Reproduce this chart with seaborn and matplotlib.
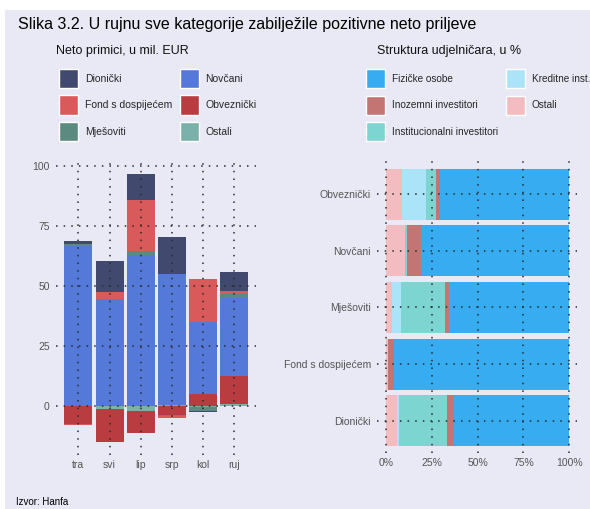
"""
Slika 3.2 - neto primici po kategorijama fondova i struktura udjelnicara.
"""

import matplotlib
matplotlib.use('Agg')
import matplotlib.pyplot as plt
import numpy as np
import pandas as pd
import seaborn as sns
from matplotlib.patches import Patch, Rectangle
from matplotlib.ticker import FuncFormatter

# ---- podaci: neto primici, u mil. EUR ----
months = ['tra', 'svi', 'lip', 'srp', 'kol', 'ruj']
dionicki = [1.2, 13.0, 11.0, 15.4, -0.6, 8.0]
fond_dosp = [-0.4, 3.0, 21.2, -0.6, 18.0, 1.1]
mjesoviti = [0.7, 0.4, 1.8, -0.5, -1.7, 1.6]
novcani = [66.8, 44.0, 62.8, 54.4, 29.9, 32.6]
obveznicki = [-7.3, -13.8, -9.0, -3.7, 5.0, 11.6]
ostali_fond = [0.0, -1.2, -2.1, 0.6, -0.3, 0.9]
fund_labels = ['Dionički', 'Fond s dospijećem', 'Mješoviti',
               'Novčani', 'Obveznički', 'Ostali']

# ---- podaci: struktura udjelnicara, u % ----
categories = ['Obveznički', 'Novčani', 'Mješoviti', 'Fond s dospijećem', 'Dionički']
ostali_ud = [8.5, 10.4, 3.3, 0.9, 6.0]
kreditne = [13.6, 0.2, 4.9, 0.0, 1.1]
institucionalni = [5.1, 0.9, 24.1, 0.0, 26.2]
inozemni = [2.2, 7.6, 2.0, 3.3, 3.6]
fizicke = [70.6, 80.9, 65.7, 95.8, 63.1]
holder_labels = ['Fizičke osobe', 'Inozemni investitori', 'Institucionalni investitori',
                 'Kreditne inst.', 'Ostali']

fund_colors = {
    'Dionički': '#414a6e',
    'Fond s dospijećem': '#d95a5a',
    'Mješoviti': '#5a8a80',
    'Novčani': '#5579d9',
    'Obveznički': '#b83c40',
    'Ostali': '#7ab1aa',
}
holder_colors = {
    'Fizičke osobe': '#38acf0',
    'Inozemni investitori': '#c37573',
    'Institucionalni investitori': '#7dd5d2',
    'Kreditne inst.': '#abe3f8',
    'Ostali': '#f2bcc0',
}

BG = '#e8e9f5'
GRID = '#2b2b2b'
TICK = '#555555'

sns.set_theme(style='white')
plt.rcParams['font.family'] = ['Liberation Sans', 'DejaVu Sans']

fig = plt.figure(figsize=(5.9, 5.09), dpi=100, facecolor='white')
fig.patches.append(Rectangle((5 / 590, 0), 1 - 5 / 590, 1 - 10 / 509,
                             transform=fig.transFigure, facecolor=BG,
                             edgecolor='none', zorder=-5))

ax1 = fig.add_axes([56 / 590, 1 - 455 / 509, 200 / 590, 295 / 509])
ax2 = fig.add_axes([377 / 590, 1 - 453 / 509, 200 / 590, 293 / 509])

# ---- lijevi graf: stacked bars (pozitivni i negativni odvojeno) ----
df = pd.DataFrame({
    'Ostali': ostali_fond,
    'Obveznički': obveznicki,
    'Novčani': novcani,
    'Mješoviti': mjesoviti,
    'Fond s dospijećem': fond_dosp,
    'Dionički': dionicki,
}, index=months)

pos_cum = df.clip(lower=0).cumsum(axis=1)
neg_cum = df.clip(upper=0).cumsum(axis=1)

for cum in (pos_cum, neg_cum):
    for col in reversed(df.columns):
        sns.barplot(x=months, y=cum[col].values, order=months, color=fund_colors[col],
                    saturation=1, width=0.9, errorbar=None, linewidth=0, ax=ax1)

ax1.set_xlim(-0.72, 5.7)
ax1.set_ylim(-20.4, 102.5)
ax1.set_yticks([0, 25, 50, 75, 100])
ax1.set_xticks(range(len(months)))
ax1.set_xticklabels(months)

# ---- desni graf: horizontalni 100% stacked ----
dh = pd.DataFrame({
    'Ostali': ostali_ud,
    'Kreditne inst.': kreditne,
    'Institucionalni investitori': institucionalni,
    'Inozemni investitori': inozemni,
    'Fizičke osobe': fizicke,
}, index=categories)
h_cum = dh.cumsum(axis=1)

for col in reversed(dh.columns):
    sns.barplot(x=h_cum[col].values, y=categories, order=categories, orient='h',
                color=holder_colors[col], saturation=1, width=0.9, errorbar=None,
                linewidth=0, ax=ax2)

ax2.set_xlim(-4.9, 104.2)
ax2.set_ylim(4.57, -0.6)
ax2.set_xticks([0, 25, 50, 75, 100])
ax2.xaxis.set_major_formatter(FuncFormatter(lambda v, p: f'{v:.0f}%'))

# ---- zajednicki stil osi ----
for ax in (ax1, ax2):
    ax.set_facecolor(BG)
    ax.set_xlabel('')
    ax.set_ylabel('')
    for s in ax.spines.values():
        s.set_visible(False)
    ax.grid(True, which='major', color=GRID, linestyle=(0, (1, 4)), linewidth=1.1)
    ax.set_axisbelow(False)
    ax.tick_params(length=0, labelsize=7.5, labelcolor=TICK)
    ax.tick_params(axis='y', pad=4.5)
    ax.tick_params(axis='x', pad=3.5)

# ---- legende (kvadratici ~19 px, razmak redova ~26 px) ----
fig.legend(handles=[Patch(facecolor=fund_colors[l], label=l) for l in fund_labels],
           loc='upper left', bbox_to_anchor=(59 / 590, 1 - 69 / 509), ncol=2,
           frameon=False, fontsize=7.5, handlelength=1.83, handleheight=2.44,
           labelspacing=0.71, handletextpad=0.67, columnspacing=0.7,
           borderpad=0, borderaxespad=0)
fig.legend(handles=[Patch(facecolor=holder_colors[l], label=l) for l in holder_labels],
           loc='upper left', bbox_to_anchor=(366 / 590, 1 - 69 / 509), ncol=2,
           frameon=False, fontsize=7.2, handlelength=1.9, handleheight=2.55,
           labelspacing=0.75, handletextpad=0.7, columnspacing=0.74,
           borderpad=0, borderaxespad=0)

# ---- tekstovi ----
fig.text(18 / 590, 1 - 29 / 509,
         'Slika 3.2. U rujnu sve kategorije zabilježile pozitivne neto priljeve',
         fontsize=11.5, color='black', va='baseline', ha='left')
fig.text(56 / 590, 1 - 54 / 509, 'Neto primici, u mil. EUR',
         fontsize=9, color='#111111', va='baseline', ha='left')
fig.text(377 / 590, 1 - 54 / 509, 'Struktura udjelničara, u %',
         fontsize=9, color='#111111', va='baseline', ha='left')
fig.text(16 / 590, 1 - 505 / 509, 'Izvor: Hanfa',
         fontsize=7, color='black', va='baseline', ha='left')

fig.savefig('out.png', dpi=100, facecolor='white')
plt.close(fig)
